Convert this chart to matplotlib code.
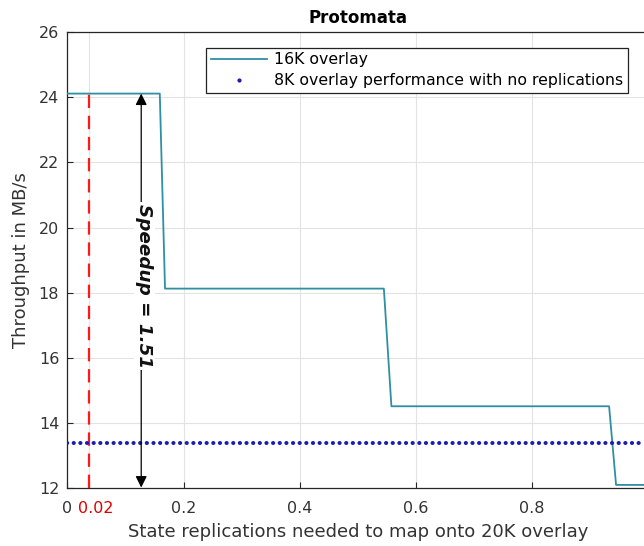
import matplotlib
matplotlib.use("Agg")
import matplotlib.pyplot as plt
from matplotlib.lines import Line2D
from matplotlib.transforms import ScaledTranslation

# Data
step_x = [0.0, 0.159, 0.168, 0.545, 0.558, 0.933, 0.945, 1.0]
step_y = [24.12, 24.12, 18.12, 18.12, 14.50, 14.50, 12.08, 12.08]
baseline_8k = 13.37
red_line_x = 0.037
red_line_label = "0.02"
speedup_x = 0.127
speedup_text = "Speedup = 1.51"
xticks = [0, 0.2, 0.4, 0.6, 0.8, 1.0]
xtick_labels = ["0", "0.2", "0.4", "0.6", "0.8", "1"]
yticks = [12, 14, 16, 18, 20, 22, 24, 26]

plt.rcParams['font.family'] = ['DejaVu Sans']
fig = plt.figure(figsize=(6.44, 5.46), dpi=100)
ax = fig.add_axes([0.1048, 0.1071, 0.9014, 0.8334])

line_col = '#2f8fa3'
dot_col = '#1c1cb4'
ax.plot(step_x, step_y, color=line_col, lw=1.3, zorder=3)
ax.plot([0, 1], [baseline_8k, baseline_8k], color=dot_col, lw=2.9,
        linestyle=(0, (0.05, 1.6)), dash_capstyle='round', zorder=3)

ax.plot([red_line_x, red_line_x], [12, step_y[0]], color='#ff1a1a', lw=1.6,
        linestyle=(0, (6, 3.5)), zorder=2)

ax.annotate('', xy=(speedup_x, step_y[0]), xytext=(speedup_x, 12.0),
            arrowprops=dict(arrowstyle='<|-|>', color='black', lw=0.9,
                            mutation_scale=17, shrinkA=0, shrinkB=0), zorder=4)
ax.text(speedup_x + 0.005, 18.2, speedup_text, rotation=-90, ha='center', va='center',
        fontsize=13.2, fontweight='bold', fontstyle='italic', color='#111111',
        bbox=dict(facecolor='white', edgecolor='none', pad=1.0), zorder=5)

ax.set_xlim(0, 1)
ax.set_ylim(12, 26)
ax.set_xticks(xticks + [red_line_x])
ax.set_xticklabels(xtick_labels + [red_line_label])
ax.set_yticks(yticks)
ax.tick_params(labelsize=11.5, colors='#262626', direction='in', length=4, width=0.8)
ax.tick_params(axis='x', pad=10)
ax.tick_params(axis='y', pad=6)
for lab in ax.get_xticklabels() + ax.get_yticklabels():
    lab.set_color('#333333')
labs = ax.get_xticklabels()
labs[-1].set_color('#e00000')
labs[-1].set_transform(labs[-1].get_transform() + ScaledTranslation(0.07, 0, fig.dpi_scale_trans))
ax.grid(True, color='#e3e3e3', lw=0.8)
ax.set_axisbelow(True)
for s in ax.spines.values():
    s.set_color('#262626')
    s.set_linewidth(0.9)

ax.set_title('Protomata', fontsize=12, fontweight='bold', pad=7)
ax.set_xlabel('State replications needed to map onto 20K overlay', fontsize=13, color='#333333', labelpad=5)
ax.set_ylabel('Throughput in MB/s', fontsize=13, color='#333333', labelpad=6)

handles = [Line2D([], [], color=line_col, lw=1.3),
           Line2D([], [], color=dot_col, marker='.', markersize=4, linestyle='none')]
leg = ax.legend(handles, ['16K overlay', '8K overlay performance with no replications'],
                loc='upper right', bbox_to_anchor=(0.9655, 0.967), fontsize=11.3,
                frameon=True, fancybox=False, framealpha=1, edgecolor='#222222',
                borderpad=0.3, labelspacing=0.38, handlelength=3.6, handletextpad=0.45,
                borderaxespad=0)
leg.get_frame().set_linewidth(0.9)

fig.savefig('out.png', dpi=100)
